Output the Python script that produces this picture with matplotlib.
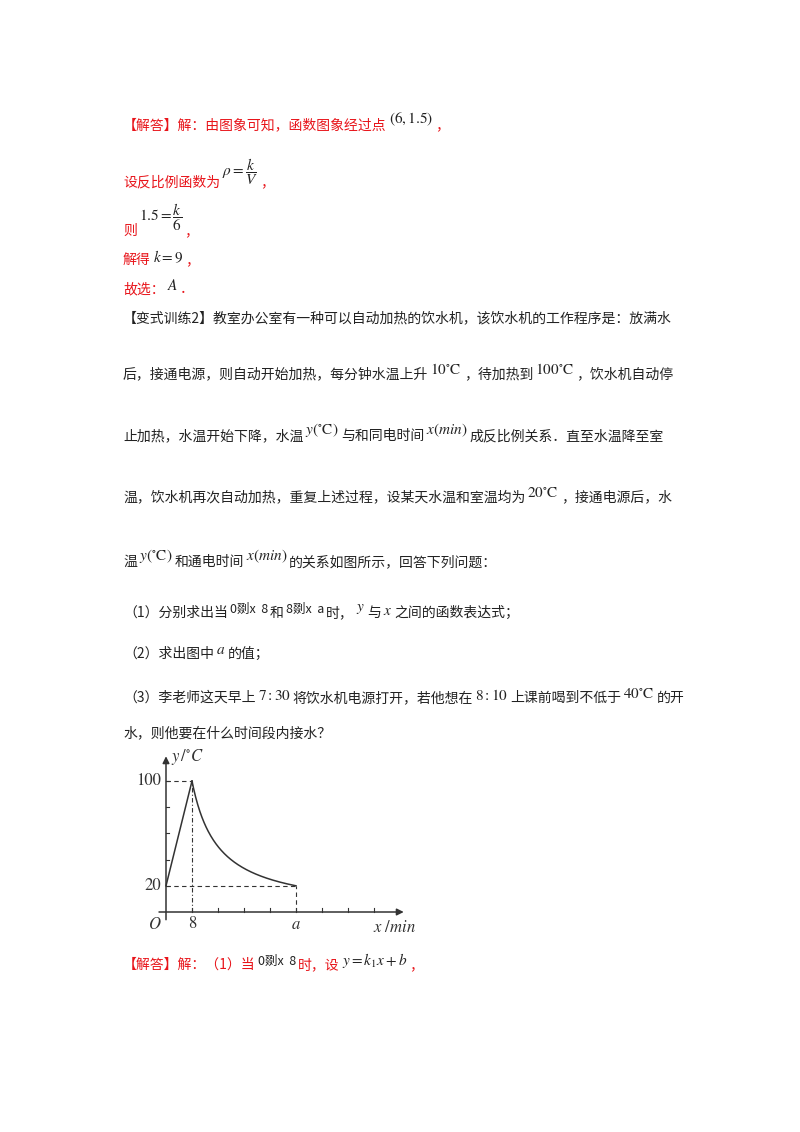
import matplotlib
matplotlib.use("Agg")
import matplotlib.pyplot as plt
import numpy as np

plt.rcParams["mathtext.fontset"] = "stix"
CJK = ["Noto Sans CJK SC", "DejaVu Sans"]
RED = "#e8141a"
BLK = "#222222"
W, H = 800, 1132

# chart data
heat_x = [0, 8]
heat_y = [20, 100]
k_cool = 800
a_val = 40
x_ticks = [8, 16, 24, 32, 40, 48, 56, 64]
y_ticks = [20, 40, 60, 80, 100]

fig = plt.figure(figsize=(W / 100, H / 100), dpi=100)
fig.canvas.draw()
rend = fig.canvas.get_renderer()


def line(y, segs, x0=123):
    """segs: (text, color, dy, is_math, size)"""
    x = x0
    for s in segs:
        txt, col, dy, math = s[:4]
        size = s[4] if len(s) > 4 else 10
        if math:
            t = fig.text(x / W, 1 - (y - dy) / H, txt, color=col, fontsize=size + 1,
                         va="center", ha="left", family="STIXGeneral")
        else:
            t = fig.text(x / W, 1 - (y - dy) / H, txt, color=col, fontsize=size,
                         va="center", ha="left", family=CJK)
        x += t.get_window_extent(rend).width + 2


line(125, [("【解答】解：由图象可知，函数图象经过点", RED, 0, False),
           (r"$(6,1.5)$", BLK, 6, True), ("，", RED, 0, False)])
line(182, [("设反比例函数为", RED, 0, False),
           (r"$\rho=\dfrac{k}{V}$", BLK, 10, True), ("，", RED, 0, False)])
line(231, [("则", RED, 0, False), (r"$1.5=\dfrac{k}{6}$", BLK, 14, True),
           ("，", RED, 0, False)])
line(260, [("解得", RED, 0, False), (r"$k=9$", BLK, 3, True), ("，", RED, 0, False)])
line(289, [("故选：", RED, 0, False), (r"$A$", BLK, 3, True), ("．", RED, 0, False)])
line(318, [("【变式训练2】教室办公室有一种可以自动加热的饮水机，该饮水机的工作程序是：放满水", BLK, 0, False)])
line(374, [("后，接通电源，则自动开始加热，每分钟水温上升", BLK, 0, False),
           (r"$10^{\circ}\mathrm{C}$", BLK, 4, True),
           ("，待加热到", BLK, 0, False), (r"$100^{\circ}\mathrm{C}$", BLK, 4, True),
           ("，饮水机自动停", BLK, 0, False)])
line(436, [("止加热，水温开始下降，水温", BLK, 0, False),
           (r"$y(^{\circ}\mathrm{C})$", BLK, 6, True),
           ("与和同电时间", BLK, 0, False), (r"$x(min)$", BLK, 6, True),
           ("成反比例关系．直至水温降至室", BLK, 0, False)])
line(497, [("温，饮水机再次自动加热，重复上述过程，设某天水温和室温均为", BLK, 0, False),
           (r"$20^{\circ}\mathrm{C}$", BLK, 4, True),
           ("，接通电源后，水", BLK, 0, False)])
line(562, [("温", BLK, 0, False), (r"$y(^{\circ}\mathrm{C})$", BLK, 6, True),
           ("和通电时间", BLK, 0, False), (r"$x(min)$", BLK, 6, True),
           ("的关系如图所示，回答下列问题：", BLK, 0, False)])
line(613, [("（1）分别求出当", BLK, 0, False), ("0剟x  8", BLK, 4, False, 9),
           ("和", BLK, 0, False), ("8剟x  a", BLK, 4, False, 9),
           ("时，", BLK, 0, False), (r"$y$", BLK, 4, True), ("与", BLK, 0, False),
           (r"$x$", BLK, 2, True), ("之间的函数表达式；", BLK, 0, False)])
line(654, [("（2）求出图中", BLK, 0, False), (r"$a$", BLK, 4, True), ("的值；", BLK, 0, False)])
line(698, [("（3）李老师这天早上", BLK, 0, False), (r"$7:30$", BLK, 2, True),
           ("将饮水机电源打开，若他想在", BLK, 0, False), (r"$8:10$", BLK, 2, True),
           ("上课前喝到不低于", BLK, 0, False), (r"$40^{\circ}\mathrm{C}$", BLK, 4, True),
           ("的开", BLK, 0, False)])
line(733, [("水，则他要在什么时间段内接水？", BLK, 0, False)])
line(965, [("【解答】解：（1）当", RED, 0, False), ("0剟x  8", BLK, 4, False, 9),
           ("时，设", RED, 0, False), (r"$y=k_1x+b$", BLK, 4, True), ("，", RED, 0, False)])

# chart: origin at (166, 912) px, 3.25 px per x unit, 1.31 px per y unit
px_x, px_y = 3.25, 1.31
L, R, B, T = 140, 440, 945, 745
ax = fig.add_axes([L / W, 1 - B / H, (R - L) / W, (B - T) / H])
ax.set_xlim((L - 166) / px_x, (R - 166) / px_x)
ax.set_ylim((912 - B) / px_y, (912 - T) / px_y)
ax.axis("off")
c = "#333333"
ax.annotate("", xy=(74, 0), xytext=(-3, 0),
            arrowprops=dict(arrowstyle="-|>", color=c, lw=1.1, mutation_scale=10))
ax.annotate("", xy=(0, 121), xytext=(0, -8),
            arrowprops=dict(arrowstyle="-|>", color=c, lw=1.1, mutation_scale=10))
for t in x_ticks:
    ax.plot([t, t], [0, 3], color=c, lw=0.8)
for t in y_ticks:
    ax.plot([0, 1], [t, t], color=c, lw=0.8)
ax.plot(heat_x, heat_y, color=c, lw=1.1)
xs = np.linspace(8, a_val, 200)
ax.plot(xs, k_cool / xs, color=c, lw=1.1)
ax.plot([0, 8], [100, 100], color=c, lw=0.8, ls=(0, (4, 3)))
ax.plot([8, 8], [0, 100], color=c, lw=0.8, ls=(0, (4, 2, 1, 2)))
ax.plot([0, a_val], [20, 20], color=c, lw=0.8, ls=(0, (4, 3)))
ax.plot([a_val, a_val], [0, 20], color=c, lw=0.8, ls=(0, (4, 3)))
tf = dict(family="STIXGeneral", fontsize=12, color=c)
ax.text(-1.5, 100, "100", ha="right", va="center", **tf)
ax.text(-1.5, 20, "20", ha="right", va="center", **tf)
ax.text(-1.5, -3, "O", ha="right", va="top", style="italic", **tf)
ax.text(8, -3, "8", ha="center", va="top", **tf)
ax.text(a_val, -3, "a", ha="center", va="top", style="italic", **tf)
ax.text(1.5, 118, r"$y\,/^{\circ}C$", ha="left", va="center", **tf)
ax.text(77, -6, r"$x\ /min$", ha="right", va="top", **tf)

fig.savefig("out.png", dpi=100)
